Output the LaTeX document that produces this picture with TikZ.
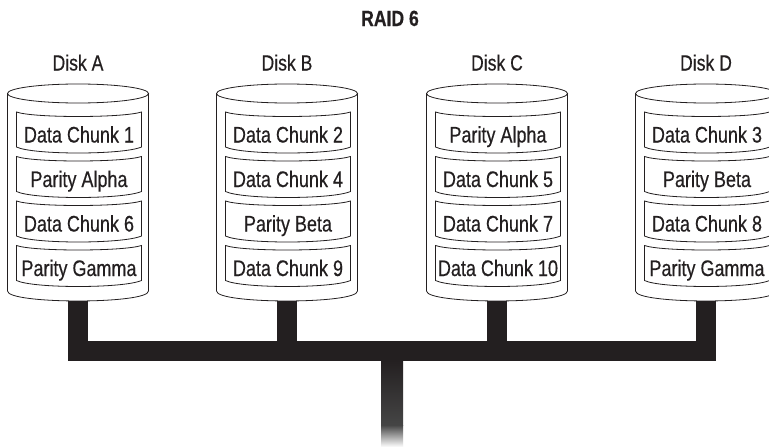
\documentclass[tikz,border=0pt]{standalone}
\usepackage{fontspec}
\setmainfont{Liberation Sans}[FakeStretch=0.8, FakeBold=0.4]
\definecolor{ink}{HTML}{231F20}
\definecolor{stemgray}{HTML}{454545}
\tikzset{
  outline/.style={draw=ink, line width=0.8pt, fill=white},
  bandtext/.style={font=\fontsize{22.5}{22.5}\selectfont, text=ink, anchor=base, inner sep=0pt},
  disklabel/.style={font=\fontsize{22}{22}\selectfont, text=ink, anchor=base, inner sep=0pt},
  busfill/.style={fill=ink, draw=none},
}
\newcommand\bandshape[3]{% cx, top, name
  \draw[outline] ({#1-61.5},#2) .. controls ({#1-45},{#2+6}) and ({#1+45},{#2+6}) .. ({#1+63.5},#2)
     -- ({#1+63.5},{#2+35}) .. controls ({#1+45},{#2+43}) and ({#1-45},{#2+43}) .. ({#1-61.5},{#2+35}) -- cycle;
  \coordinate (#3) at ({#1+1},{#2+30.5});
}
\newcommand\mydisk[7]{% cx, id, label, t1..t4
  \draw[outline] ({#1-70.5},93.5) -- ({#1-70.5},291) .. controls ({#1-70.5},304.3) and ({#1+70.5},304.3) .. ({#1+70.5},291) -- ({#1+70.5},93.5) -- cycle;
  \draw[outline] (#1,93.5) ellipse [x radius=70.5pt, y radius=9.5pt];
  \node[disklabel] (#2title) at (#1,70.5) {#3};
  \bandshape{#1}{112}{#2b1}
  \bandshape{#1}{156.5}{#2b2}
  \bandshape{#1}{201}{#2b3}
  \bandshape{#1}{245.5}{#2b4}
  \node[bandtext] (#2t1) at (#2b1) {#4};
  \node[bandtext] (#2t2) at (#2b2) {#5};
  \node[bandtext] (#2t3) at (#2b3) {#6};
  \node[bandtext] (#2t4) at (#2b4) {#7};
  \coordinate (#2foot) at (#1,295);
}
\begin{document}
\begin{tikzpicture}[x=1pt,y=-1pt]
\useasboundingbox (0,0) rectangle (769,447);
\clip (0,0) rectangle (769,447);
\fill[white] (0,0) rectangle (769,447);
\node[font=\fontsize{22}{22}\selectfont\bfseries, text=ink, anchor=base, inner sep=0pt] (title) at (390,26) {RAID 6};
% bus
\coordinate (busL) at (68,341);
\coordinate (busR) at (716,361);
\fill[busfill] (busL) rectangle (busR);
\foreach \cx in {78,287,497,706} {
  \fill[busfill] ({\cx-10},290) rectangle ({\cx+10},345);
}
\coordinate (mainTop) at (381,359);
\coordinate (mainMid) at (403,425);
\coordinate (mainBot) at (381,447);
\shade[top color=ink, bottom color=stemgray] (mainTop) rectangle (mainMid);
\shade[top color=stemgray, bottom color=white] (mainBot) rectangle (mainMid);
% disks
\mydisk{78}{A}{Disk A}{Data Chunk 1}{Parity Alpha}{Data Chunk 6}{Parity Gamma}
\mydisk{287}{B}{Disk B}{Data Chunk 2}{Data Chunk 4}{Parity Beta}{Data Chunk 9}
\mydisk{497}{C}{Disk C}{Parity Alpha}{Data Chunk 5}{Data Chunk 7}{Data Chunk 10}
\mydisk{706}{D}{Disk D}{Data Chunk 3}{Parity Beta}{Data Chunk 8}{Parity Gamma}
\end{tikzpicture}
\end{document}
